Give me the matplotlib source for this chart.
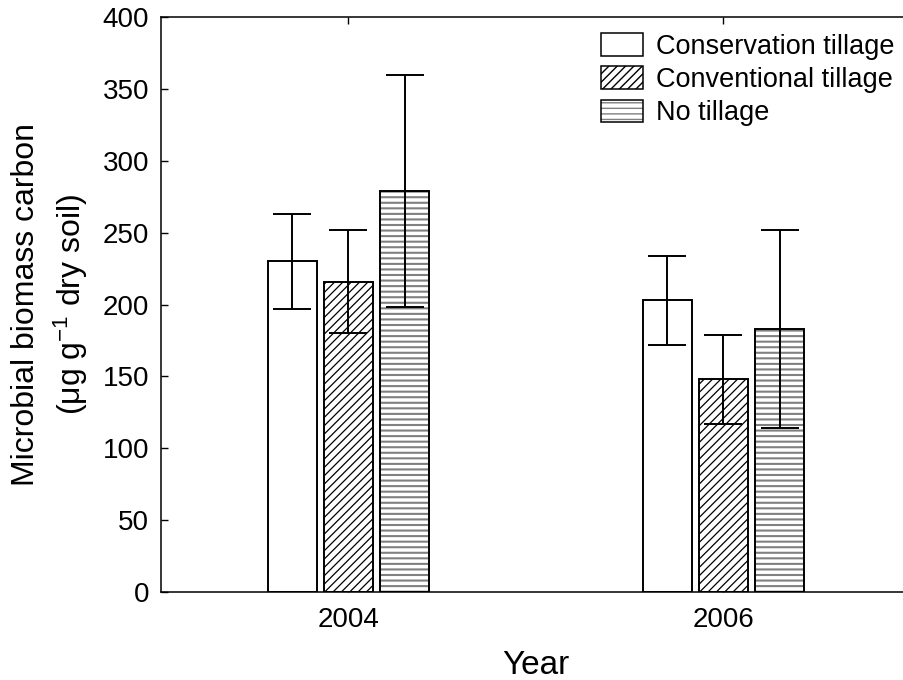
import numpy as np
import matplotlib
matplotlib.use('Agg')
import matplotlib.pyplot as plt

plt.rcParams['font.family'] = ['Liberation Sans', 'DejaVu Sans']
plt.rcParams['mathtext.fontset'] = 'custom'
plt.rcParams['mathtext.rm'] = 'Liberation Sans'
plt.rcParams['mathtext.it'] = 'Liberation Sans'

# data
years = ['2004', '2006']
treatments = ['Conservation tillage', 'Conventional tillage', 'No tillage']
means = {
    'Conservation tillage': [230, 203],
    'Conventional tillage': [216, 148],
    'No tillage': [279, 183],
}
errors = {
    'Conservation tillage': [33, 31],
    'Conventional tillage': [36, 31],
    'No tillage': [81, 69],
}
hatches = ['', '////', '---']
hatch_colors = ['black', 'black', '#808080']
hatch_widths = [1.0, 0.9, 1.5]

fig = plt.figure(figsize=(9.04, 6.8), dpi=100)
ax = fig.add_axes([0.178, 0.1294, 0.8296, 0.8456])

x = np.arange(len(years))
width = 0.13
step = 0.15

handles = []
for i, t in enumerate(treatments):
    xp = x + (i - 1) * step
    with plt.rc_context({'hatch.linewidth': hatch_widths[i]}):
        # hatch layer, then outline on top
        ax.bar(xp, means[t], width, color='white', edgecolor=hatch_colors[i],
               hatch=hatches[i], linewidth=0, zorder=2)
        fill = plt.Rectangle((0, 0), 1, 1, facecolor='white',
                             edgecolor=hatch_colors[i], hatch=hatches[i],
                             linewidth=0)
    ax.bar(xp, means[t], width, fill=False, edgecolor='black',
           linewidth=1.4, zorder=3)
    ax.errorbar(xp, means[t], yerr=errors[t], fmt='none', ecolor='black',
                elinewidth=1.4, capsize=13.5, capthick=1.4, zorder=4)
    edge = plt.Rectangle((0, 0), 1, 1, fill=False, edgecolor='black',
                         linewidth=1.1)
    handles.append((fill, edge))

leg = ax.legend(handles, treatments, loc='upper right', frameon=False,
                fontsize=19.5, handlelength=1.55, handleheight=0.9,
                handletextpad=0.45, labelspacing=0.25,
                bbox_to_anchor=(1.003, 1.005), borderaxespad=0.3)

ax.set_xlim(-0.5, 1.5)
ax.set_ylim(0, 400)
ax.set_xticks(x)
ax.set_xticklabels(years)
ax.set_yticks(np.arange(0, 401, 50))
ax.tick_params(axis='both', direction='in', labelsize=20, length=5, width=1,
               top=True, right=False)
ax.tick_params(axis='x', pad=11)
ax.tick_params(axis='y', pad=8.5)
ax.spines['right'].set_visible(False)
for s in ['left', 'bottom', 'top']:
    ax.spines[s].set_linewidth(1.1)

ax.set_xlabel('Year', fontsize=24, labelpad=12)
ax.set_ylabel('Microbial biomass carbon\n(μg g$^{-1}$ dry soil)', fontsize=23,
              labelpad=9, linespacing=1.38)

fig.savefig('out.png', dpi=100)
